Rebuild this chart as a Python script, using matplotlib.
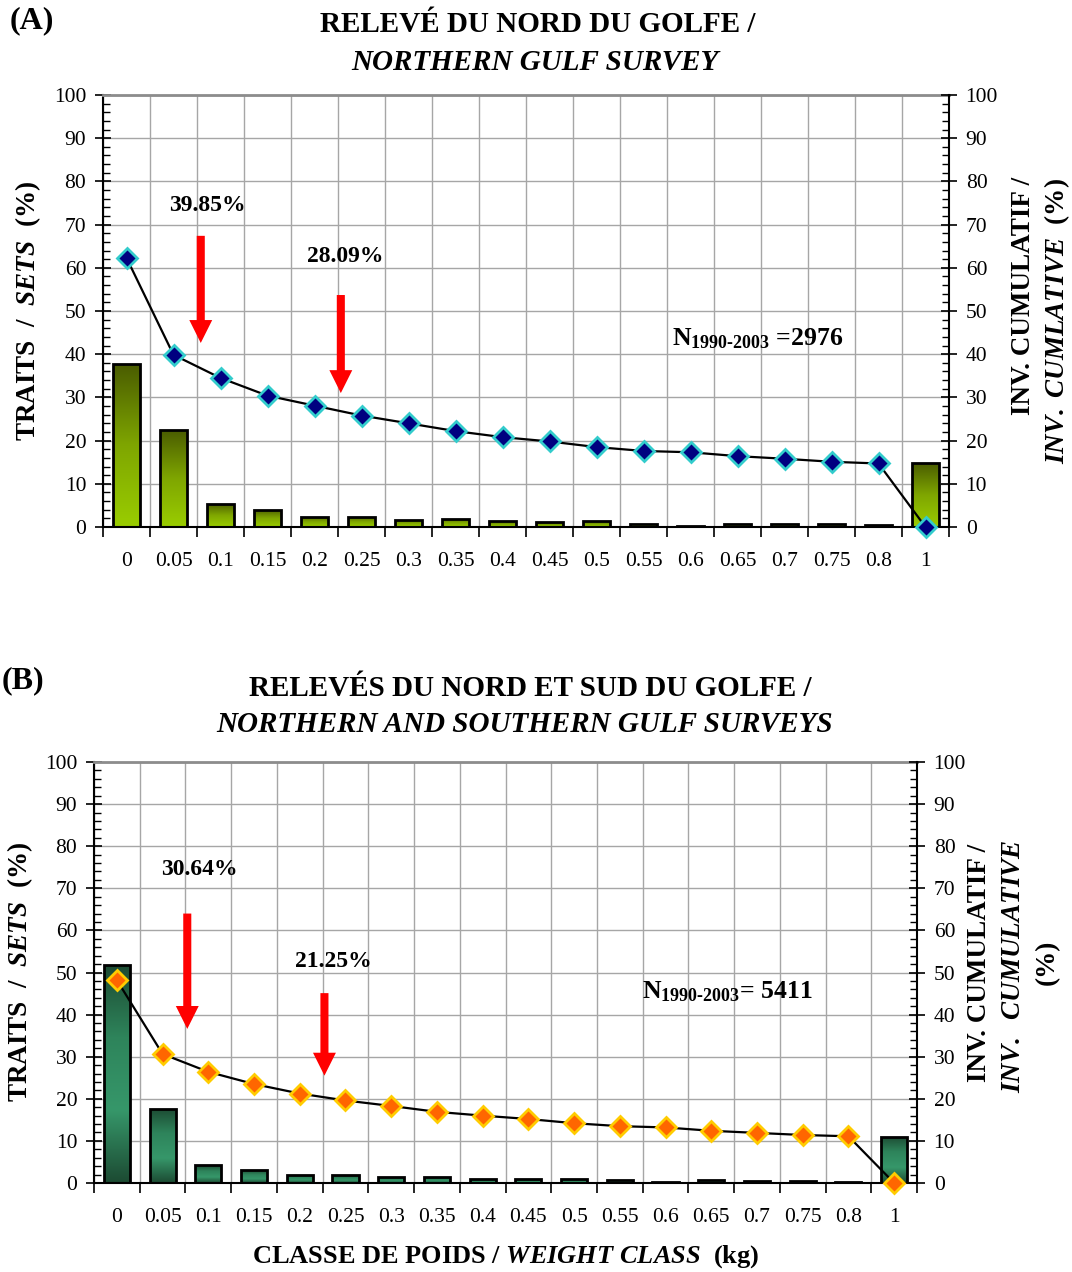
import numpy as np
import matplotlib
matplotlib.use("Agg")
import matplotlib.pyplot as plt
from matplotlib.colors import LinearSegmentedColormap
from matplotlib.ticker import MultipleLocator

plt.rcParams['font.family'] = ['Liberation Serif', 'DejaVu Serif']
plt.rcParams['mathtext.fontset'] = 'custom'
plt.rcParams['mathtext.rm'] = 'Liberation Serif:bold'
plt.rcParams['mathtext.it'] = 'Liberation Serif:italic:bold'
plt.rcParams['mathtext.bf'] = 'Liberation Serif:bold'

# Weight classes (kg)
classes = ['0', '0.05', '0.1', '0.15', '0.2', '0.25', '0.3', '0.35', '0.4',
           '0.45', '0.5', '0.55', '0.6', '0.65', '0.7', '0.75', '0.8', '1']

# (A) Northern Gulf survey: % of sets per class and inverse cumulative %
sets_north = [37.7, 22.4, 5.4, 4.0, 2.4, 2.4, 1.7, 1.9, 1.3, 1.1, 1.3, 0.8,
              0.3, 0.8, 0.6, 0.6, 0.4, 14.7]
invcum_north = [62.3, 39.85, 34.5, 30.4, 28.09, 25.8, 24.0, 22.2, 20.8, 19.8,
                18.5, 17.6, 17.3, 16.4, 15.8, 15.1, 14.7, 0.0]

# (B) Northern and southern Gulf surveys
sets_all = [51.8, 17.6, 4.2, 3.0, 2.0, 1.9, 1.4, 1.4, 1.0, 0.9, 1.0, 0.7,
            0.3, 0.7, 0.5, 0.4, 0.3, 11.0]
invcum_all = [48.2, 30.64, 26.4, 23.5, 21.25, 19.6, 18.3, 16.9, 16.0, 15.2,
              14.2, 13.5, 13.2, 12.4, 11.9, 11.4, 11.1, 0.0]

W, H = 1072, 1272
fig = plt.figure(figsize=(W / 100, H / 100), dpi=100)


def px(x, y):
    return x / W, 1 - y / H


cmap_olive = LinearSegmentedColormap.from_list('olive', ['#9acd00', '#7fa600', '#4a5c00'])
cmap_green = LinearSegmentedColormap.from_list('green', ['#1c4a32', '#36976a', '#2e845b', '#1c4a32'])

TICK_FS = 15.5


def panel(rect, bars, line, cmap, mfc, mec, arrows, pct_labels, n_label, n_pos):
    ax = fig.add_axes(rect)
    x = np.arange(len(classes))
    b = ax.bar(x, bars, width=0.57, edgecolor='black', linewidth=2, zorder=3)
    grad = np.linspace(0, 1, 256).reshape(-1, 1)
    for r in b:
        x0, y0, w, h = r.get_x(), r.get_y(), r.get_width(), r.get_height()
        im = ax.imshow(grad, extent=[x0, x0 + w, y0, y0 + h], origin='lower',
                       aspect='auto', cmap=cmap, zorder=2.5, interpolation='bilinear')
        im.set_clip_path(r)
        r.set_facecolor('none')
    ax.set_xlim(-0.5, len(classes) - 0.5)
    ax.set_ylim(0, 100)
    ax.set_aspect('auto')

    ax.set_xticks(x)
    ax.set_xticklabels(classes, fontsize=TICK_FS)
    ax.set_xticks(np.arange(len(classes) + 1) - 0.5, minor=True)
    ax.tick_params(axis='x', which='major', length=0, pad=18)
    ax.tick_params(axis='x', which='minor', direction='out', length=7, width=1.2)
    ax.yaxis.set_major_locator(MultipleLocator(10))
    ax.yaxis.set_minor_locator(MultipleLocator(2))
    ax.tick_params(axis='y', which='major', direction='inout', length=12, width=1.2,
                   labelsize=TICK_FS, pad=6)
    ax.tick_params(axis='y', which='minor', direction='in', length=5, width=1)
    ax.grid(axis='x', which='minor', color='#a6a6a6', lw=1, zorder=0)
    ax.grid(axis='y', which='major', color='#a6a6a6', lw=1, zorder=0)
    ax.set_axisbelow(True)
    for s in ('left', 'bottom'):
        ax.spines[s].set_color('black')
        ax.spines[s].set_linewidth(1.5)
    ax.spines['top'].set_color('#8c8c8c')
    ax.spines['top'].set_linewidth(2)
    ax.spines['right'].set_visible(False)

    ax2 = ax.twinx()
    ax2.set_ylim(0, 100)
    ax2.yaxis.set_major_locator(MultipleLocator(10))
    ax2.yaxis.set_minor_locator(MultipleLocator(2))
    ax2.tick_params(axis='y', which='major', direction='inout', length=12, width=1.2,
                    labelsize=TICK_FS, pad=6)
    ax2.tick_params(axis='y', which='minor', direction='in', length=5, width=1)
    for s in ('left', 'bottom', 'top'):
        ax2.spines[s].set_visible(False)
    ax2.spines['right'].set_color('black')
    ax2.spines['right'].set_linewidth(1.5)
    ax2.plot(x, line, color='black', lw=1.6, marker='D', ms=10.5, mfc=mfc, mec=mec,
             mew=2, clip_on=False, zorder=4)

    for (ax_x, y_top, y_tip) in arrows:
        ax2.annotate('', xy=(ax_x, y_tip), xytext=(ax_x, y_top),
                     arrowprops=dict(arrowstyle='simple,head_length=1.65,head_width=1.65,tail_width=0.58',
                                     mutation_scale=10, fc='#ff0000', ec='none',
                                     shrinkA=0, shrinkB=0))
    for (tx, ty, t) in pct_labels:
        ax2.text(tx, ty, t, ha='center', va='center', fontsize=17, fontweight='bold')
    ax2.text(n_pos[0], n_pos[1], n_label, ha='left', va='baseline', fontsize=18.5,
             fontweight='bold')
    return ax, ax2


axA, axA2 = panel([103 / W, 1 - 527 / H, 846 / W, 432 / H],
                  sets_north, invcum_north, cmap_olive, '#000080', '#33cccc',
                  arrows=[(1.58, 67.4, 42.6), (4.56, 53.7, 31.0)],
                  pct_labels=[(1.73, 74.5, '39.85%'), (4.65, 62.7, '28.09%')],
                  n_label=r'N$_{\text{1990-2003}}$ =2976', n_pos=(11.6, 42.1))

axB, axB2 = panel([94 / W, 1 - 1183 / H, 823 / W, 421 / H],
                  sets_all, invcum_all, cmap_green, '#ff6600', '#ffcc00',
                  arrows=[(1.54, 64.0, 36.6), (4.54, 45.1, 25.5)],
                  pct_labels=[(1.81, 74.4, '30.64%'), (4.74, 52.6, '21.25%')],
                  n_label=r'N$_{\text{1990-2003}}$= 5411', n_pos=(11.49, 43.9))

# Panel letters and titles
TITLE_FS = 21
fig.text(*px(10, 21), '(A)', fontsize=23, fontweight='bold', ha='left', va='center')
fig.text(*px(2, 681), '(B)', fontsize=23, fontweight='bold', ha='left', va='center')
fig.text(*px(538, 25), 'RELEVÉ DU NORD DU GOLFE /', fontsize=TITLE_FS, fontweight='bold',
         ha='center', va='center')
fig.text(*px(535, 62), 'NORTHERN GULF SURVEY', fontsize=TITLE_FS, fontweight='bold',
         fontstyle='italic', ha='center', va='center')
fig.text(*px(530, 688), 'RELEVÉS DU NORD ET SUD DU GOLFE /', fontsize=TITLE_FS,
         fontweight='bold', ha='center', va='center')
fig.text(*px(525, 724), 'NORTHERN AND SOUTHERN GULF SURVEYS', fontsize=TITLE_FS,
         fontweight='bold', fontstyle='italic', ha='center', va='center')

# Axis titles
ylab = r'TRAITS  /  $\mathit{SETS}$  (%)'
fig.text(*px(28, 311), ylab, fontsize=19.5, fontweight='bold', rotation=90,
         ha='center', va='center')
fig.text(*px(20, 972), ylab, fontsize=19.5, fontweight='bold', rotation=90,
         ha='center', va='center')

fig.text(*px(1023, 296), 'INV. CUMULATIF /', fontsize=19.5, fontweight='bold',
         rotation=90, ha='center', va='center')
fig.text(*px(1057, 321), r'$\mathit{INV.\ CUMLATIVE}$  (%)', fontsize=19.5,
         fontweight='bold', rotation=90, ha='center', va='center')

fig.text(*px(980, 963), 'INV. CUMULATIF /', fontsize=19.5, fontweight='bold',
         rotation=90, ha='center', va='center')
fig.text(*px(1013, 966), r'$\mathit{INV.\ \ CUMULATIVE}$', fontsize=19.5,
         fontweight='bold', rotation=90, ha='center', va='center')
fig.text(*px(1047, 962), '(%)', fontsize=19.5, fontweight='bold',
         rotation=90, ha='center', va='center')

fig.text(*px(506, 1257), r'CLASSE DE POIDS / $\mathit{WEIGHT\ CLASS}$  (kg)', fontsize=19,
         fontweight='bold', ha='center', va='center')

fig.savefig('out.png', dpi=100)
